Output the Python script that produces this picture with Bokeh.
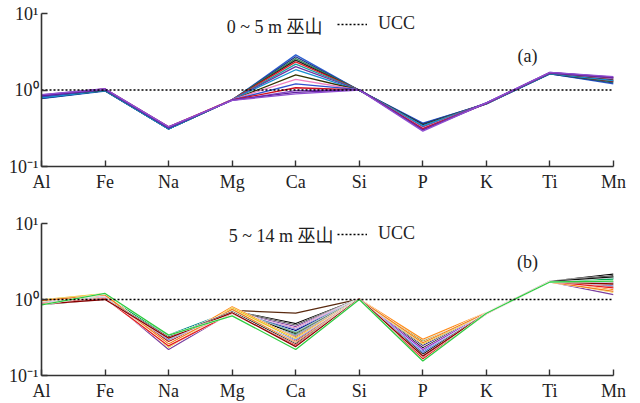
from bokeh.plotting import figure
from bokeh.layouts import column
from bokeh.models import Range1d, FixedTicker, Label, Legend, LegendItem
from bokeh.embed import file_html
from bokeh.resources import INLINE

ELEMENTS = ["Al", "Fe", "Na", "Mg", "Ca", "Si", "P", "K", "Ti", "Mn"]
UCC = [1, 1, 1, 1, 1, 1, 1, 1, 1, 1]
Y_TICKS = [0.1, 1, 10]
Y_TICK_LABELS = ["10\u207b\u00b9", "10\u2070", "10\u00b9"]

# ---- panel (a): 0 ~ 5 m, 15 samples ----
AL_A = [0.77, 0.78, 0.80, 0.79, 0.81, 0.80, 0.82, 0.79, 0.83, 0.84, 0.82, 0.85, 0.86, 0.84, 0.87]
FE_A = [0.97, 0.98, 0.99, 0.98, 1.00, 0.99, 1.01, 0.98, 1.00, 1.02, 1.01, 1.03, 1.04, 1.02, 1.03]
NA_A = [0.31, 0.31, 0.32, 0.31, 0.32, 0.31, 0.32, 0.31, 0.32, 0.33, 0.32, 0.33, 0.33, 0.32, 0.33]
MG_A = [0.74, 0.74, 0.75, 0.74, 0.75, 0.74, 0.75, 0.75, 0.74, 0.75, 0.74, 0.74, 0.73, 0.74, 0.73]
CA_A = [2.88, 2.72, 2.58, 2.46, 2.33, 2.18, 2.02, 1.84, 1.58, 1.38, 1.20, 1.07, 0.98, 0.93, 0.89]
SI_A = [0.99, 0.99, 1.00, 0.99, 1.00, 1.00, 1.00, 0.99, 1.00, 1.00, 1.01, 1.00, 1.00, 1.01, 1.00]
P_A = [0.37, 0.36, 0.35, 0.35, 0.34, 0.34, 0.33, 0.34, 0.32, 0.32, 0.31, 0.31, 0.30, 0.30, 0.29]
K_A = [0.66, 0.67, 0.67, 0.66, 0.67, 0.67, 0.68, 0.66, 0.67, 0.67, 0.68, 0.67, 0.68, 0.67, 0.68]
TI_A = [1.62, 1.63, 1.65, 1.64, 1.66, 1.65, 1.67, 1.64, 1.66, 1.68, 1.66, 1.69, 1.70, 1.68, 1.70]
MN_A = [1.20, 1.24, 1.27, 1.30, 1.31, 1.34, 1.36, 1.33, 1.39, 1.41, 1.43, 1.45, 1.47, 1.46, 1.50]
COLORS_A = ["#2b5fd0", "#1f2f8f", "#2e8b57", "#222222", "#e0202a", "#1aa0a0", "#7030a0",
            "#1890d0", "#333300", "#f080c0", "#3050d0", "#d01020", "#8040c0", "#6020a0", "#9050d0"]

# ---- panel (b): 5 ~ 14 m, 22 samples ----
AL_B = [0.92, 0.90, 0.88, 0.93, 0.95, 0.91, 0.89, 0.94, 0.90, 0.87, 0.93, 0.96, 0.91, 0.98, 0.99, 0.90, 0.88, 0.97, 0.86, 0.89, 0.87, 0.85]
FE_B = [1.08, 1.05, 1.04, 1.10, 1.12, 1.07, 1.03, 1.09, 1.06, 1.02, 1.11, 1.13, 1.06, 1.17, 1.19, 1.05, 1.04, 1.15, 1.01, 1.03, 1.00, 1.20]
NA_B = [0.30, 0.33, 0.32, 0.22, 0.29, 0.31, 0.33, 0.34, 0.32, 0.31, 0.33, 0.24, 0.30, 0.26, 0.235, 0.29, 0.28, 0.26, 0.32, 0.245, 0.31, 0.34]
MG_B = [0.72, 0.71, 0.70, 0.68, 0.67, 0.69, 0.70, 0.71, 0.69, 0.72, 0.66, 0.68, 0.70, 0.80, 0.77, 0.68, 0.67, 0.74, 0.69, 0.66, 0.67, 0.61]
CA_B = [0.66, 0.48, 0.46, 0.44, 0.42, 0.40, 0.39, 0.37, 0.36, 0.35, 0.34, 0.33, 0.32, 0.31, 0.30, 0.29, 0.28, 0.27, 0.26, 0.25, 0.24, 0.22]
SI_B = [1.01, 1.02, 1.01, 1.00, 1.02, 1.01, 1.00, 1.01, 1.02, 1.01, 1.00, 1.01, 1.02, 1.01, 1.00, 1.01, 1.02, 1.01, 1.00, 1.01, 1.02, 1.00]
P_B = [0.29, 0.27, 0.26, 0.22, 0.24, 0.21, 0.25, 0.20, 0.19, 0.23, 0.18, 0.22, 0.28, 0.30, 0.26, 0.20, 0.17, 0.27, 0.19, 0.165, 0.18, 0.155]
K_B = [0.66, 0.66, 0.67, 0.66, 0.65, 0.66, 0.67, 0.66, 0.66, 0.67, 0.65, 0.66, 0.66, 0.67, 0.66, 0.65, 0.66, 0.67, 0.66, 0.65, 0.66, 0.66]
TI_B = [1.72, 1.73, 1.71, 1.70, 1.72, 1.73, 1.74, 1.71, 1.72, 1.73, 1.70, 1.71, 1.72, 1.74, 1.73, 1.71, 1.72, 1.70, 1.73, 1.72, 1.71, 1.70]
MN_B = [1.70, 2.16, 1.95, 1.16, 1.30, 1.62, 1.88, 1.92, 2.00, 2.05, 1.85, 1.40, 1.55, 1.35, 1.25, 1.50, 1.45, 1.28, 1.98, 1.42, 1.60, 1.75]
COLORS_B = ["#5a2a10", "#000000", "#555555", "#7b3fa0", "#e78ac3", "#1f3fbf", "#000080", "#008b8b",
            "#006400", "#000000", "#00a650", "#9932cc", "#808000", "#ff8c1a", "#e6c619", "#4169e1",
            "#b22222", "#f08020", "#111111", "#e41a1c", "#8b0000", "#2ecc40"]

FONT = "'Liberation Serif', 'Times New Roman', 'Noto Sans CJK SC', serif"
FS = "18px"


def make_panel(columns, colors, head, tag, height, top, bottom, leg_y, head_x, head_y, tag_y, casing):
    p = figure(width=640, height=height, x_range=Range1d(0, len(ELEMENTS) - 1),
               y_range=Range1d(Y_TICKS[0], Y_TICKS[-1]), y_axis_type="log",
               output_backend="svg", toolbar_location=None,
               min_border_left=41, min_border_right=27, min_border_top=top, min_border_bottom=bottom)
    p.outline_line_color = None
    p.xgrid.visible = False
    p.ygrid.visible = False
    p.background_fill_color = "white"

    xs = list(range(len(ELEMENTS)))
    n = len(colors)
    for i in range(n):
        ys = [col[i] for col in columns]
        if casing:
            p.line(xs, ys, line_color="white", line_width=2.0)
        p.line(xs, ys, line_color=colors[i], line_width=1.3)

    ucc = p.line(xs, UCC, line_color="black", line_width=1.6, line_dash="2 2")

    # axes
    for ax in (p.xaxis[0], p.yaxis[0]):
        ax.axis_line_color = "#333333"
        ax.axis_line_width = 1.6
        ax.major_tick_line_color = "#333333"
        ax.major_tick_line_width = 1.4
        ax.major_tick_in = 6
        ax.major_tick_out = 0
        ax.minor_tick_line_color = None
        ax.major_label_text_font = FONT
        ax.major_label_text_font_size = FS
        ax.major_label_text_color = "#222222"
    p.xaxis.ticker = FixedTicker(ticks=xs)
    p.xaxis.major_label_overrides = {i: e for i, e in enumerate(ELEMENTS)}
    p.xaxis.major_label_standoff = 5
    p.yaxis.ticker = FixedTicker(ticks=Y_TICKS, minor_ticks=[])
    p.yaxis.major_label_overrides = {t: l for t, l in zip(Y_TICKS, Y_TICK_LABELS)}
    p.yaxis.major_label_standoff = 3

    legend = Legend(items=[LegendItem(label="UCC", renderers=[ucc])],
                    location=(296, leg_y), glyph_width=30, glyph_height=20,
                    label_standoff=11, padding=0, margin=0, spacing=0,
                    border_line_color=None, background_fill_alpha=0,
                    label_text_font=FONT, label_text_font_size=FS, label_text_color="#222222")
    p.add_layout(legend, "center")

    p.add_layout(Label(x=head_x, y=head_y, x_units="screen", y_units="screen", text=head,
                       text_align="right", text_baseline="middle",
                       text_font=FONT, text_font_size=FS, text_color="#222222"))
    p.add_layout(Label(x=486, y=tag_y, x_units="screen", y_units="screen", text=tag,
                       text_align="center", text_baseline="middle",
                       text_font=FONT, text_font_size=FS, text_color="#222222"))
    return p


pa = make_panel([AL_A, FE_A, NA_A, MG_A, CA_A, SI_A, P_A, K_A, TI_A, MN_A], COLORS_A,
                "0 ~ 5 m 巫山", "(a)", 201, 13, 35, 132, 281, 139.7, 110.7, False)
pb = make_panel([AL_B, FE_B, NA_B, MG_B, CA_B, SI_B, P_B, K_B, TI_B, MN_B], COLORS_B,
                "5 ~ 14 m 巫山", "(b)", 202, 22, 27, 131, 292, 139.7, 113.7, True)

layout = column(pa, pb, spacing=0)
open("out.html", "w").write(file_html(layout, INLINE))
